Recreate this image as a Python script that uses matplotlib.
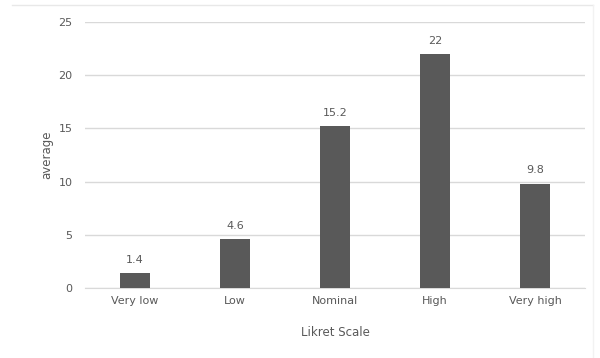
import matplotlib.pyplot as plt
from matplotlib.lines import Line2D

# Average score per Likert category
categories = ['Very low', 'Low', 'Nominal', 'High', 'Very high']
averages = [1.4, 4.6, 15.2, 22, 9.8]
value_labels = ['1.4', '4.6', '15.2', '22', '9.8']
y_ticks = [0, 5, 10, 15, 20, 25]

text_color = '#595959'
bar_color = '#595959'
grid_color = '#d9d9d9'

fig = plt.figure(figsize=(6, 3.58), dpi=100)
ax = fig.add_axes([0.1417, 0.1955, 0.8333, 0.743])

x = range(len(categories))
ax.bar(x, averages, width=0.3, color=bar_color, zorder=3)

for xi, v, lab in zip(x, averages, value_labels):
    ax.annotate(lab, (xi, v), xytext=(0, 6), textcoords='offset points',
                ha='center', va='bottom', fontsize=8, color=text_color)

ax.set_xlim(-0.5, len(categories) - 0.5)
ax.set_ylim(0, 25)
ax.set_yticks(y_ticks)
ax.set_xticks(list(x))
ax.set_xticklabels(categories)
ax.tick_params(axis='both', length=0, labelsize=8, colors=text_color)
ax.tick_params(axis='y', pad=9)
ax.tick_params(axis='x', pad=6)

ax.grid(axis='y', color=grid_color, linewidth=1, zorder=0)
for side in ['top', 'right', 'left']:
    ax.spines[side].set_visible(False)
ax.spines['bottom'].set_color(grid_color)

ax.set_xlabel('Likret Scale', fontsize=8.5, color=text_color, labelpad=14)
ax.set_ylabel('average', fontsize=8.5, color=text_color, labelpad=4)

# faint frame along the top and right edge of the chart area
frame = '#e8e8e8'
fig.add_artist(Line2D([0.02, 0.988], [0.986, 0.986], transform=fig.transFigure,
                      color=frame, linewidth=1))
fig.add_artist(Line2D([0.988, 0.988], [0.0, 0.986], transform=fig.transFigure,
                      color='#f2f2f2', linewidth=1))

fig.savefig('out.png', dpi=100)
